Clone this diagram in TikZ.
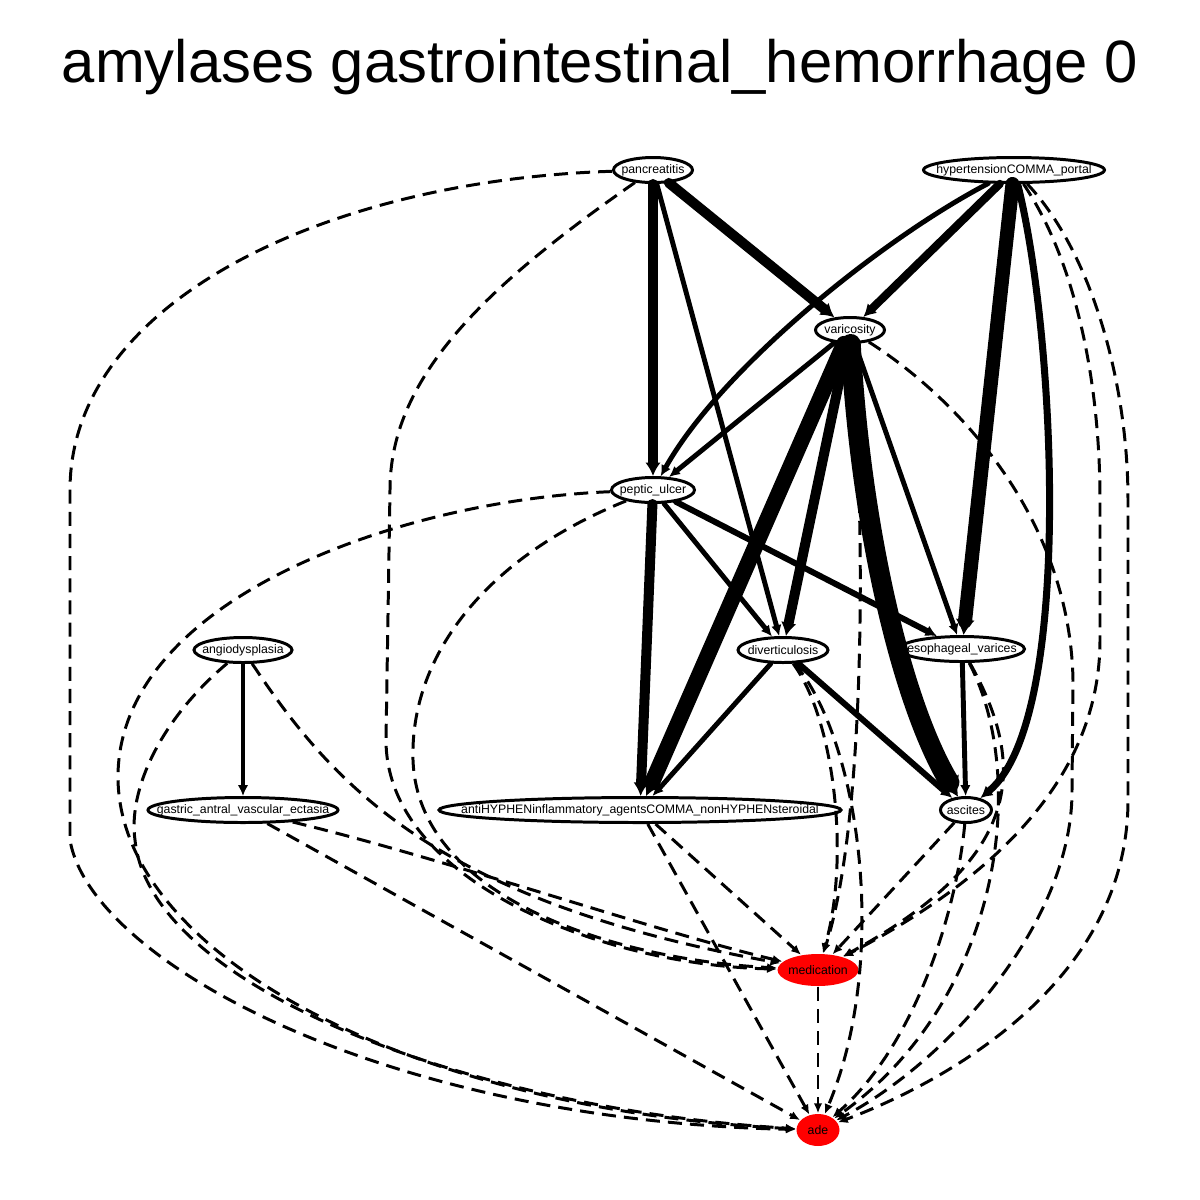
\documentclass[tikz,border=0pt]{standalone}
\usepackage{fontspec}
\setmainfont{Liberation Sans}
\usetikzlibrary{shapes.geometric,arrows.meta}
\newcommand{\nlab}[1]{\makebox[0pt]{#1}}
\begin{document}
\begin{tikzpicture}[
  state/.style={draw, ellipse, line width=0.85pt, fill=white, inner sep=0pt, minimum height=0.250cm, font=\fontsize{3.5pt}{4pt}\selectfont},
  outcome/.style={ellipse, fill=red, inner sep=0pt, minimum height=0.320cm, font=\fontsize{3.5pt}{4pt}\selectfont},
  causal/.style={line cap=round, -{Latex[length=2.4pt 0.5, width=1.6pt 1]}},
  assoc/.style={line width=0.85pt, dash pattern=on 4pt off 2.3pt, -{Latex[length=2.4pt 0.5, width=1.6pt 1]}}]
\useasboundingbox (0.000,0.000) rectangle (12.000,-12.000);
\node[anchor=base, font=\fontsize{17pt}{20pt}\selectfont] (title) at (6.000,-0.825) {amylases gastrointestinal\_hemorrhage 0};
\node[state, minimum width=0.790cm] (pan) at (6.530,-1.700) {\nlab{pancreatitis}};
\node[state, minimum width=1.810cm] (hyp) at (10.140,-1.700) {\nlab{hypertensionCOMMA\_portal}};
\node[state, minimum width=0.690cm] (vari) at (8.500,-3.300) {\nlab{varicosity}};
\node[state, minimum width=0.830cm] (pep) at (6.530,-4.900) {\nlab{peptic\_ulcer}};
\node[state, minimum width=0.980cm] (angio) at (2.430,-6.500) {\nlab{angiodysplasia}};
\node[state, minimum width=0.900cm] (div) at (7.830,-6.500) {\nlab{diverticulosis}};
\node[state, minimum width=1.250cm] (eso) at (9.620,-6.490) {\nlab{esophageal\_varices}};
\node[state, minimum width=1.900cm] (gave) at (2.430,-8.100) {\nlab{gastric\_antral\_vascular\_ectasia}};
\node[state, minimum width=4.020cm] (anti) at (6.400,-8.100) {\nlab{antiHYPHENinflammatory\_agentsCOMMA\_nonHYPHENsteroidal}};
\node[state, minimum width=0.510cm] (asc) at (9.660,-8.100) {\nlab{ascites}};
\node[outcome, minimum width=0.810cm] (med) at (8.180,-9.700) {\nlab{medication}};
\node[outcome, minimum width=0.430cm] (ade) at (8.180,-11.300) {\nlab{ade}};
\draw[causal, line width=2.85pt] (pan) -- (pep);
\draw[causal, line width=1.40pt] (pan) -- (div);
\draw[causal, line width=2.85pt] (pan) -- (vari);
\draw[causal, line width=2.30pt] (hyp) -- (vari);
\draw[causal, line width=1.40pt] (hyp) .. controls (8.800,-2.400) and (7.200,-3.700) .. (pep);
\draw[causal, line width=4.00pt] (hyp) -- (eso);
\draw[causal, line width=2.00pt] (hyp) .. controls (10.550,-3.300) and (10.750,-7.200) .. (asc);
\draw[causal, line width=1.40pt] (vari) -- (pep);
\draw[causal, line width=2.85pt] (vari) -- (div);
\draw[causal, line width=4.50pt] (vari) -- (anti);
\draw[causal, line width=5.70pt] (vari) .. controls (8.600,-5.200) and (9.000,-7.000) .. (asc);
\draw[causal, line width=1.40pt] (vari) -- (eso);
\draw[causal, line width=2.85pt] (pep) -- (anti);
\draw[causal, line width=1.40pt] (pep) -- (div);
\draw[causal, line width=1.70pt] (pep) -- (eso);
\draw[causal, line width=1.40pt] (angio) -- (gave);
\draw[causal, line width=1.40pt] (div) -- (anti);
\draw[causal, line width=1.70pt] (div) -- (asc);
\draw[causal, line width=1.40pt] (eso) -- (asc);
\draw[assoc] (pan) .. controls (3.300,-1.800) and (0.700,-3.000) .. (0.700,-4.900) -- (0.700,-8.400) .. controls (0.900,-9.600) and (3.800,-11.200) .. (ade);
\draw[assoc] (pan) .. controls (4.800,-2.900) and (3.900,-3.800) .. (3.900,-4.900) -- (3.860,-7.400) .. controls (3.860,-8.800) and (6.000,-9.650) .. (med);
\draw[assoc] (pep) .. controls (4.000,-5.000) and (1.150,-6.000) .. (1.180,-7.800) .. controls (1.220,-9.600) and (4.200,-11.100) .. (ade);
\draw[assoc] (pep) .. controls (4.800,-5.600) and (4.100,-6.600) .. (4.130,-7.600) .. controls (4.180,-9.000) and (6.200,-9.600) .. (med);
\draw[assoc] (angio) .. controls (1.600,-7.200) and (1.280,-7.900) .. (1.350,-8.400) .. controls (1.500,-9.900) and (4.800,-11.100) .. (ade);
\draw[assoc] (angio) .. controls (3.300,-7.800) and (4.300,-9.000) .. (med);
\draw[assoc] (gave) .. controls (4.500,-8.600) and (6.500,-9.300) .. (med);
\draw[assoc] (gave) -- (ade);
\draw[assoc] (anti) -- (med);
\draw[assoc] (anti) -- (ade);
\draw[assoc] (div) .. controls (8.350,-7.200) and (8.500,-8.600) .. (med);
\draw[assoc] (div) .. controls (8.600,-7.400) and (8.900,-9.600) .. (ade);
\draw[assoc] (vari) .. controls (8.660,-5.200) and (8.660,-8.200) .. (med);
\draw[assoc] (vari) .. controls (9.600,-4.000) and (10.700,-5.200) .. (10.730,-6.800) -- (10.720,-7.900) .. controls (10.730,-9.200) and (9.500,-10.600) .. (ade);
\draw[assoc] (hyp) .. controls (10.750,-2.600) and (11.000,-3.800) .. (11.000,-5.000) -- (11.000,-6.400) .. controls (11.000,-7.800) and (9.900,-8.800) .. (med);
\draw[assoc] (hyp) .. controls (10.900,-2.500) and (11.280,-3.800) .. (11.280,-5.000) -- (11.280,-8.000) .. controls (11.280,-9.800) and (9.500,-10.800) .. (ade);
\draw[assoc] (eso) .. controls (10.300,-7.700) and (10.200,-8.600) .. (med);
\draw[assoc] (eso) .. controls (10.300,-7.800) and (10.000,-10.000) .. (ade);
\draw[assoc] (asc) -- (med);
\draw[assoc] (asc) .. controls (9.580,-9.000) and (9.200,-10.400) .. (ade);
\draw[assoc] (med) -- (ade);
\end{tikzpicture}
\end{document}
